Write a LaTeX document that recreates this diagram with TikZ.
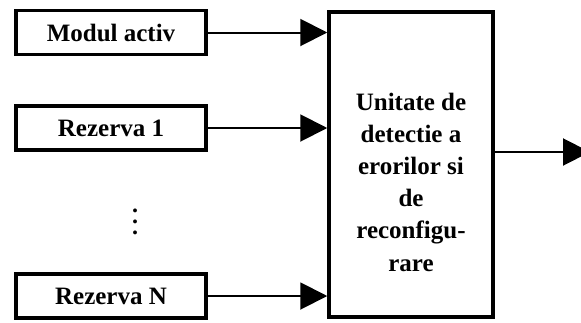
\documentclass[tikz,border=0pt]{standalone}
\usepackage{fontspec}
\setmainfont{Liberation Serif}
\usetikzlibrary{arrows.meta,positioning}

\begin{document}
\begin{tikzpicture}[x=1pt,y=-1pt,
	box/.style={draw, line width=3.5pt, minimum width=190pt, minimum height=44pt,
		inner sep=0pt, font=\bfseries\fontsize{25}{32}\selectfont},
	arr/.style={-{Triangle[length=27pt,width=27pt]}, line width=2pt}]
	\useasboundingbox (0,0) rectangle (581,322);
	\node[box] (m) at (111,32.5) {Modul activ};
	\node[box] (r1) at (111,128) {Rezerva 1};
	\node[box] (rn) at (111,296) {Rezerva N};
	\node[align=center, inner sep=0pt, font=\bfseries\fontsize{24}{11}\selectfont] (dots) at (135,222) {.\\.\\.};
	\node[box, minimum width=164pt, minimum height=305pt] (u) at (411,164.5) {};
	\node[align=center, font=\bfseries\fontsize{25}{32.2}\selectfont] (ut) at (411,182)
		{Unitate de\\detectie a\\erorilor si\\de\\reconfigu-\\rare};
	\coordinate (out) at (590,152);
	\draw[arr] (m.east) -- (m.east -| u.west);
	\draw[arr] (r1.east) -- (r1.east -| u.west);
	\draw[arr] (rn.east) -- (rn.east -| u.west);
	\draw[arr] (u.east |- out) -- (out);
\end{tikzpicture}
\end{document}
